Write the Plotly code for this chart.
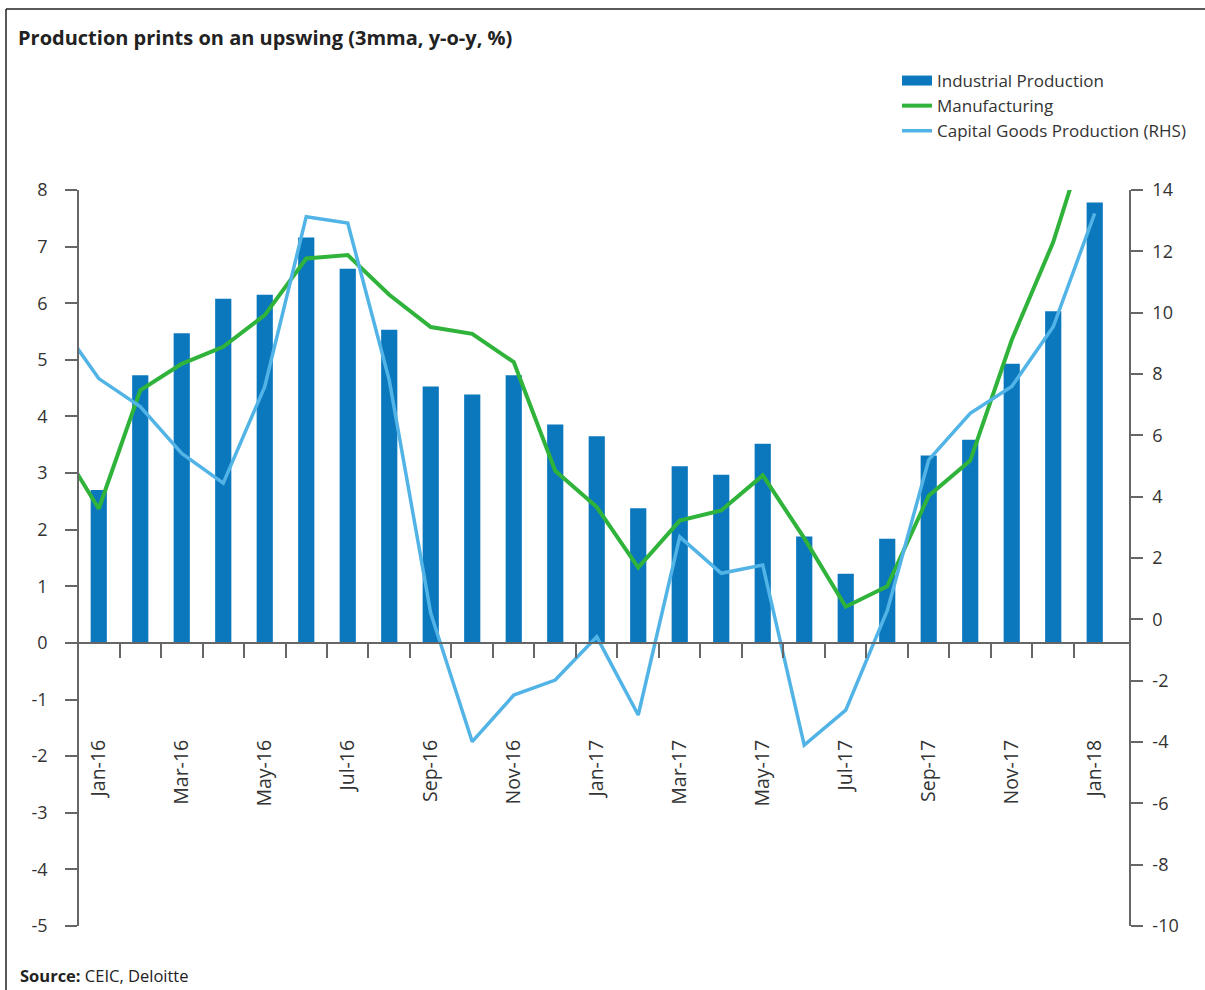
import plotly.graph_objects as go

# Months (Dec-15 only feeds the clipped start of the lines)
months = [
    "Dec-15", "Jan-16", "Feb-16", "Mar-16", "Apr-16", "May-16", "Jun-16",
    "Jul-16", "Aug-16", "Sep-16", "Oct-16", "Nov-16", "Dec-16", "Jan-17",
    "Feb-17", "Mar-17", "Apr-17", "May-17", "Jun-17", "Jul-17", "Aug-17",
    "Sep-17", "Oct-17", "Nov-17", "Dec-17", "Jan-18",
]

# Industrial Production, Jan-16 .. Jan-18 (left axis)
industrial_production = [
    2.70, 4.73, 5.47, 6.08, 6.15, 7.16, 6.61, 5.53, 4.53, 4.39, 4.73, 3.86,
    3.65, 2.38, 3.12, 2.97, 3.52, 1.88, 1.22, 1.84, 3.31, 3.59, 4.93, 5.86, 7.78,
]

# Manufacturing, Dec-15 .. Jan-18 (left axis)
manufacturing = [
    3.57, 2.37, 4.46, 4.93, 5.23, 5.79, 6.79, 6.85, 6.15, 5.58, 5.46, 4.96,
    3.04, 2.40, 1.33, 2.16, 2.34, 2.96, 1.85, 0.64, 1.00, 2.60, 3.22, 5.35,
    7.08, 9.40,
]

# Capital Goods Production, Dec-15 .. Jan-18 (right axis)
capital_goods = [
    9.77, 7.85, 6.94, 5.41, 4.44, 7.59, 13.13, 12.92, 7.80, 0.20, -3.99,
    -2.47, -1.98, -0.57, -3.12, 2.69, 1.50, 1.77, -4.10, -2.96, 0.28, 5.20,
    6.72, 7.59, 9.54, 13.24,
]

# Axis ticks
tick_marks = months[1:-1]          # boundary ticks left of Jan-16 .. right of Dec-17
label_months = months[1::2]        # Jan-16, Mar-16, ..., Jan-18
left_ticks = list(range(-5, 9))
right_ticks = list(range(-10, 15, 2))

BAR_BLUE = "#0b77bd"
GREEN = "#2fb33a"
LIGHT_BLUE = "#52b4e6"
AXIS = "#666666"
TEXT = "#333333"
FONT = "Open Sans"

W, H = 1205, 990
L, R, T, B = 78, 75, 190, 64
plot_w = W - L - R
plot_h = H - T - B


def px_x(x):
    # pixel -> paper x
    return (x - L) / plot_w


def px_y(y):
    # pixel -> paper y
    return (H - B - y) / plot_h


fig = go.Figure()

fig.add_trace(
    go.Bar(
        x=months[1:],
        y=industrial_production,
        marker=dict(color=BAR_BLUE, line=dict(width=0)),
        width=0.39,
        name="Industrial Production",
        showlegend=False,
    )
)

# legend entry for the bars (wide rectangle like the original)
fig.add_trace(
    go.Scatter(
        x=[None],
        y=[None],
        mode="lines",
        line=dict(color=BAR_BLUE, width=12),
        name="Industrial Production",
    )
)

fig.add_trace(
    go.Scatter(
        x=months,
        y=manufacturing,
        mode="lines",
        line=dict(color=GREEN, width=4),
        name="Manufacturing",
    )
)

# on x2 (same categories/range as x) so the label axis gets drawn
fig.add_trace(
    go.Scatter(
        x=months,
        y=capital_goods,
        mode="lines",
        line=dict(color=LIGHT_BLUE, width=3.5),
        name="Capital Goods Production (RHS)",
        xaxis="x2",
        yaxis="y2",
    )
)

common_x = dict(
    type="category",
    categoryorder="array",
    categoryarray=months,
    range=[0.5, 25.85],
    showgrid=False,
    zeroline=False,
    anchor="free",
    position=5 / 13,
    side="bottom",
)

fig.update_layout(
    width=W,
    height=H,
    margin=dict(l=L, r=R, t=T, b=B),
    plot_bgcolor="white",
    paper_bgcolor="white",
    font=dict(family=FONT, color=TEXT, size=16),
    title=dict(
        text="<b>Production prints on an upswing (3mma, y-o-y, %)</b>",
        xref="container",
        yref="container",
        x=18 / W,
        xanchor="left",
        y=1 - 38 / H,
        yanchor="middle",
        font=dict(family=FONT, size=20, color="#222222"),
    ),
    # tick marks on the zero line
    xaxis=dict(
        **common_x,
        tickmode="array",
        tickvals=tick_marks,
        ticktext=["" for _ in tick_marks],
        tickson="boundaries",
        ticks="outside",
        ticklen=14,
        tickwidth=1.5,
        tickcolor=AXIS,
        showline=True,
        linecolor=AXIS,
        linewidth=1.5,
    ),
    # month labels, every other month
    xaxis2=dict(
        **common_x,
        overlaying="x",
        tickmode="array",
        tickvals=label_months,
        ticktext=label_months,
        ticks="",
        showline=False,
        tickangle=-90,
        ticklabelstandoff=92,
        tickfont=dict(size=19.5, color=TEXT),
    ),
    yaxis=dict(
        range=[-5, 8],
        tickmode="array",
        tickvals=left_ticks,
        ticktext=[str(v) for v in left_ticks],
        ticks="outside",
        ticklen=12,
        tickwidth=1.5,
        tickcolor=AXIS,
        ticklabelstandoff=14,
        tickfont=dict(size=18, color=TEXT),
        showline=True,
        linecolor=AXIS,
        linewidth=1.5,
        showgrid=False,
        zeroline=False,
        anchor="free",
        position=0,
    ),
    yaxis2=dict(
        range=[-10, 14],
        tickmode="array",
        tickvals=right_ticks,
        ticktext=[str(v) for v in right_ticks],
        overlaying="y",
        side="right",
        ticks="outside",
        ticklen=12,
        tickwidth=1.5,
        tickcolor=AXIS,
        ticklabelstandoff=6,
        tickfont=dict(size=18, color=TEXT),
        showline=True,
        linecolor=AXIS,
        linewidth=1.5,
        showgrid=False,
        zeroline=False,
        anchor="free",
        position=1,
    ),
    legend=dict(
        x=px_x(897),
        y=px_y(63),
        xanchor="left",
        yanchor="top",
        bgcolor="rgba(0,0,0,0)",
        font=dict(family=FONT, size=17, color=TEXT),
        traceorder="normal",
    ),
    barmode="overlay",
)

# Source note
fig.add_annotation(
    text="<b>Source:</b> CEIC, Deloitte",
    xref="paper",
    yref="paper",
    x=px_x(18),
    y=px_y(975),
    xanchor="left",
    yanchor="middle",
    showarrow=False,
    font=dict(family=FONT, size=16.5, color="#222222"),
)

# Frame lines (top and left)
fig.add_shape(
    type="line", xref="paper", yref="paper",
    x0=px_x(6), x1=px_x(W + 5), y0=px_y(9), y1=px_y(9),
    line=dict(color="#222222", width=1.5),
)
fig.add_shape(
    type="line", xref="paper", yref="paper",
    x0=px_x(6), x1=px_x(6), y0=px_y(9), y1=px_y(H + 5),
    line=dict(color="#222222", width=1.5),
)

# drop the default page margin so the figure sits at the window's corner
fig.write_html(
    "out.html",
    config={"displayModeBar": False},
    post_script="document.body.style.margin='0';",
)
